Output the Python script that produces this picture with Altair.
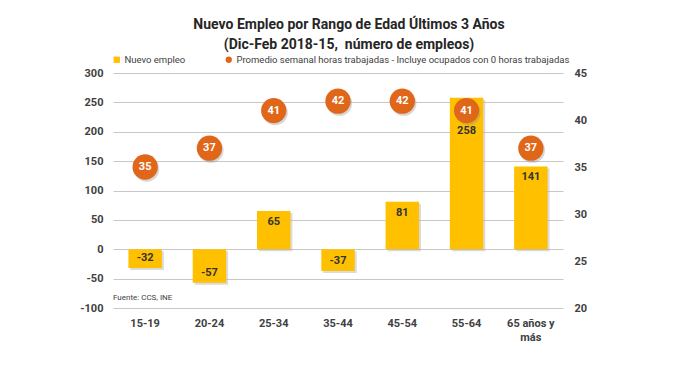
import altair as alt
import pandas as pd

categorias = ["15-19", "20-24", "25-34", "35-44", "45-54", "55-64", "65 años y\nmás"]
nuevo_empleo = [-32, -57, 65, -37, 81, 258, 141]
horas = [35, 37, 41, 42, 42, 41, 37]
serie_barras = "Nuevo empleo"
serie_puntos = "Promedio semanal horas trabajadas - Incluye ocupados con 0 horas trabajadas"
titulo = ["Nuevo Empleo por Rango de Edad Últimos 3 Años", "(Dic-Feb 2018-15,\u00a0 número de empleos)"]
fuente = ["Fuente: CCS, INE"]
ticks_izq = [-100, -50, 0, 50, 100, 150, 200, 250, 300]
ticks_der = [20, 25, 30, 35, 40, 45]

FONT = "Roboto"
TXT = "#404040"
AMARILLO = "#FFC000"
NARANJA = "#E0661A"

df = pd.DataFrame({"cat": categorias, "empleo": nuevo_empleo, "horas": horas,
                   "s1": serie_barras, "s2": serie_puntos})

x_enc = alt.X("cat:N", sort=categorias,
              scale=alt.Scale(paddingInner=0.48, paddingOuter=0.24),
              axis=alt.Axis(title=None, labelAngle=0, labelExpr="split(datum.label, '\\n')",
                            labelFont=FONT, labelFontSize=11, labelFontWeight="bold",
                            labelColor=TXT, labelPadding=9, ticks=False, domain=False,
                            labelLineHeight=14))

axis_izq = alt.Axis(title=None, values=ticks_izq, grid=True, gridColor="#C8C8C8",
                    ticks=False, domain=False, labelFont=FONT, labelFontSize=11,
                    labelFontWeight="bold", labelColor=TXT, labelPadding=10,
                    labelExpr="toString(datum.value)")
axis_der = alt.Axis(title=None, values=ticks_der, grid=False, orient="right",
                    ticks=False, domain=False, labelFont=FONT, labelFontSize=11,
                    labelFontWeight="bold", labelColor=TXT, labelPadding=11)

y_izq = alt.Y("empleo:Q", scale=alt.Scale(domain=[-100, 300], nice=False), axis=axis_izq)
y_der = alt.Y("horas:Q", scale=alt.Scale(domain=[20, 45], nice=False), axis=axis_der)

base = alt.Chart(df).transform_calculate(lab="toString(datum.empleo)")

bar_shadow = base.mark_bar(color="#B0B0B0", opacity=0.45).encode(
    x=x_enc, y=y_izq, xOffset=alt.value(2), yOffset=alt.value(2))

bars = base.mark_bar().encode(
    x=x_enc, y=y_izq,
    color=alt.Color("s1:N", scale=alt.Scale(range=[AMARILLO]),
                    legend=alt.Legend(title=None, orient="none", legendX=-1, legendY=-18,
                                      symbolType="square", symbolSize=40,
                                      labelFont=FONT, labelFontSize=9.5, labelColor=TXT,
                                      labelOffset=3)))

lab_style = dict(font=FONT, fontSize=11, fontWeight="bold", color="#333333", baseline="middle")
lab_pos = base.transform_filter("datum.empleo > 0 && datum.empleo < 200").mark_text(dy=11, **lab_style).encode(
    x=x_enc, y=y_izq, text="lab:N")
lab_alto = base.transform_filter("datum.empleo >= 200").mark_text(dy=33, **lab_style).encode(
    x=x_enc, y=y_izq, text="lab:N")
lab_neg = base.transform_filter("datum.empleo < 0").mark_text(dy=-10, **lab_style).encode(
    x=x_enc, y=y_izq, text="lab:N")

izq = alt.layer(bar_shadow, bars, lab_pos, lab_alto, lab_neg)

pt_shadow = base.mark_point(filled=True, opacity=0.35, size=640, color="#8A8A8A").encode(
    x=x_enc, y=y_der, xOffset=alt.value(18.2), yOffset=alt.value(2))

points = base.mark_point(filled=True, opacity=1, size=640).encode(
    x=x_enc, y=y_der,
    color=alt.Color("s2:N", scale=alt.Scale(range=[NARANJA]),
                    legend=alt.Legend(title=None, orient="none", legendX=111, legendY=-18,
                                      symbolType="circle", symbolSize=40,
                                      labelFont=FONT, labelFontSize=9.5, labelColor=TXT,
                                      labelOffset=3, labelLimit=500)))
pt_lab = base.mark_text(font=FONT, fontSize=11, fontWeight="bold", color="white",
                        baseline="middle").encode(x=x_enc, y=y_der, text="horas:Q")

der = alt.layer(pt_shadow, points, pt_lab)

nota = alt.Chart(pd.DataFrame({"t": fuente})).mark_text(
    font=FONT, fontSize=8, color=TXT, align="left", baseline="middle").encode(
    text="t:N", x=alt.value(0), y=alt.value(225))

chart = alt.layer(izq, der, nota).resolve_scale(
    y="independent", color="independent").properties(
    width=450, height=235,
    autosize=alt.AutoSizeParams(type="none"),
    padding={"left": 105, "top": 65, "right": 110, "bottom": 45},
    title=alt.Title(titulo, font=FONT, fontSize=14, fontWeight="bold", color="#262626",
                    anchor="middle", dx=11, offset=3, lineHeight=20),
).configure_view(stroke=None)

chart.save("out.html", embed_options={"renderer": "svg", "actions": False})
